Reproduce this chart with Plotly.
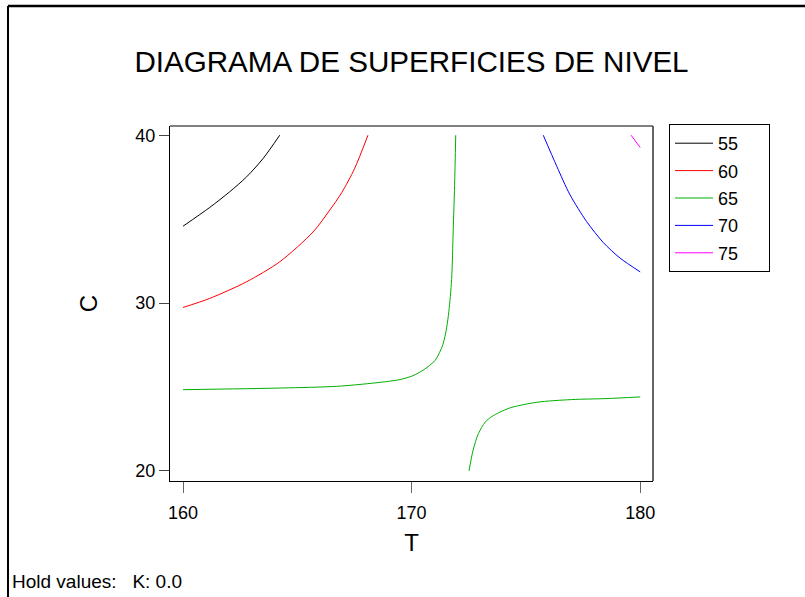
import plotly.graph_objects as go

# ---- data (T vs C, K held at 0.0) ----
levels = ["55", "60", "65", "70", "75"]
colors = ["#000000", "#FF0000", "#00B000", "#0000FF", "#FF00FF"]

t55 = [160.0, 161.17, 162.04, 162.78, 163.50, 164.23]
c55 = [34.58, 35.70, 36.63, 37.52, 38.61, 40.0]

t60 = [160.0, 161.17, 162.78, 164.23, 165.69, 166.42, 166.95, 167.50, 168.09]
c60 = [29.74, 30.28, 31.27, 32.46, 34.24, 35.54, 36.60, 38.00, 40.0]

t65a = [160.0, 164.31, 166.72, 168.23, 169.44, 170.05, 170.50, 171.03, 171.37,
        171.53, 171.63, 171.75, 171.82, 171.88, 171.93]
c65a = [24.84, 24.94, 25.04, 25.22, 25.43, 25.67, 26.0, 26.59, 27.54,
        28.52, 29.51, 31.4, 34.35, 37.0, 40.0]

t65b = [172.51, 172.69, 172.92, 173.22, 173.52, 174.27, 175.48, 176.99, 178.50, 180.0]
c65b = [20.0, 21.24, 22.22, 22.91, 23.25, 23.74, 24.09, 24.25, 24.31, 24.41]

t70 = [175.76, 176.35, 176.93, 177.66, 178.39, 179.12, 180.0]
c70 = [40.0, 38.15, 36.45, 34.85, 33.60, 32.68, 31.86]

t75 = [179.60, 180.0]
c75 = [40.0, 39.27]

x_ticks = [160, 170, 180]
y_ticks = [20, 30, 40]

FONT = "Liberation Sans, Arial, sans-serif"

fig = go.Figure()
curves = [
    (t55, c55, 0, True),
    (t60, c60, 1, True),
    (t65a, c65a, 2, True),
    (t65b, c65b, 2, False),
    (t70, c70, 3, True),
    (t75, c75, 4, True),
]
for xs, ys, i, show in curves:
    fig.add_trace(go.Scatter(
        x=xs, y=ys, mode="lines",
        line=dict(color=colors[i], width=1, shape="spline", smoothing=0.8),
        name=levels[i] + "\u00a0" * 5,
        legendgroup=levels[i], showlegend=show,
    ))

# plot area in pixels: x 170..653, y 126..481
L, R, T, B = 170, 152, 126, 116
W, H = 805, 597
pw, ph = W - L - R, H - T - B

def px(xp):
    return (xp - L) / pw

def py(yp):
    return (H - B - yp) / ph

fig.update_layout(
    width=W, height=H,
    margin=dict(l=L, r=R, t=T, b=B, pad=0),
    paper_bgcolor="white", plot_bgcolor="white",
    font=dict(family=FONT, color="black"),
    title=dict(text="DIAGRAMA DE SUPERFICIES DE NIVEL",
               font=dict(size=29.6, family=FONT, color="black"),
               x=0.5, xref="paper", xanchor="center",
               y=1 - 62 / H, yref="container", yanchor="middle"),
    xaxis=dict(range=[159.43, 180.56], tickvals=x_ticks, ticks="outside",
               ticklen=11, tickcolor="#666", tickwidth=1,
               showline=True, linecolor="black", linewidth=1, mirror=False,
               showgrid=False, zeroline=False, ticklabelstandoff=4,
               tickfont=dict(size=18, family=FONT),
               title=dict(text="T", font=dict(size=24, family=FONT), standoff=12)),
    yaxis=dict(range=[19.40, 40.55], tickvals=y_ticks, ticks="outside",
               ticklen=10, tickcolor="#444", tickwidth=1,
               showline=True, linecolor="black", linewidth=1, mirror=False,
               showgrid=False, zeroline=False,
               tickfont=dict(size=18, family=FONT),
               title=dict(text="C", font=dict(size=24, family=FONT), standoff=30)),
    legend=dict(x=px(669), y=1 + 2 / ph, xanchor="left", yanchor="top",
                bordercolor="black", borderwidth=1, bgcolor="white",
                font=dict(size=18, family=FONT),
                traceorder="grouped", tracegroupgap=1, itemwidth=38),
    showlegend=True,
)

# plot frame top (grey) and right edges
fig.add_shape(type="line", xref="paper", yref="paper", x0=0, x1=1, y0=1, y1=1,
              line=dict(color="#808080", width=2))
fig.add_shape(type="line", xref="paper", yref="paper", x0=1, x1=1, y0=0, y1=1,
              line=dict(color="#333", width=1.5))

# outer page border (left and top)
fig.add_shape(type="line", xref="paper", yref="paper",
              x0=px(8), x1=px(8), y0=py(597), y1=py(6),
              line=dict(color="black", width=2))
fig.add_shape(type="line", xref="paper", yref="paper",
              x0=px(8), x1=px(805), y0=py(6), y1=py(6),
              line=dict(color="black", width=2.5))

fig.add_annotation(text="Hold values:\u00a0\u00a0\u00a0K: 0.0", xref="paper", yref="paper",
                   x=px(10), y=py(581), xanchor="left", yanchor="middle",
                   showarrow=False, font=dict(size=19, family=FONT, color="black"))

fig.write_html("out.html")
